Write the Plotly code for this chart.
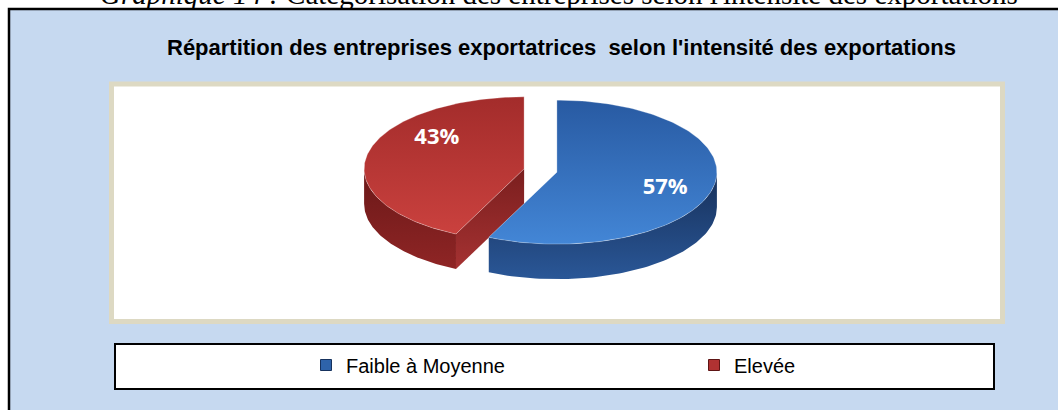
import numpy as np
import plotly.graph_objects as go

# ---------------- data ----------------
categories = ["Faible à Moyenne", "Elevée"]
values = [57, 43]
caption_label = "Graphique 14 :"
caption_text = "Catégorisation des entreprises selon l'intensité des exportations"
title_text = "Répartition des entreprises exportatrices\u00a0 selon l'intensité des exportations"

# ---------------- style / layout ----------------
W, H = 1058, 410
CX, CY = 540.5, 170.5          # pie centre (px)
RX, RY = 160.0, 72.0           # tilted ellipse radii
DEPTH = 35.0                    # pie thickness
EXPLODE = 0.105
LABEL_R = 0.70
label_nudge = [(-1, 5), (22, -19)]
top_colors = [("#4386D6", "#285AA2"), ("#CA413E", "#A32C2B")]
side_colors = [("#2A5797", "#17305A"), ("#8F2525", "#6A1818")]
face_colors = [("#2E62A8", "#1D3D6E"), ("#A53232", "#7A1E1E")]
legend_colors = ["#2E63AA", "#B03232"]
legend_edge = ["#16325E", "#5E1414"]
legend_x = [306, 694]           # px position of each legend entry

fig = go.Figure()

total = float(sum(values))
bounds = np.concatenate([[0.0], np.cumsum(values) / total * 360.0])


def pt(theta_deg, cx, cy, dy=0.0):
    t = np.radians(theta_deg)
    return cx + RX * np.sin(t), cy - RY * np.cos(t) + dy


def add_face(xs, ys, c0, c1):
    fig.add_trace(go.Scatter(x=xs, y=ys, fill="toself", mode="lines",
                             line=dict(width=0), hoverinfo="skip", showlegend=False,
                             fillgradient=dict(type="vertical", colorscale=[[0, c0], [1, c1]])))


slices = []
for i, v in enumerate(values):
    t0, t1 = bounds[i], bounds[i + 1]
    mid = 0.5 * (t0 + t1)
    m = np.radians(mid)
    cx = CX + EXPLODE * RX * np.sin(m)
    cy = CY - EXPLODE * RY * np.cos(m)
    slices.append((t0, t1, mid, cx, cy))

# back slice first, front slice last
order = [1, 0]
for i in order:
    t0, t1, mid, cx, cy = slices[i]
    for edge, normal in ((t0, t0 - 90), (t1, t1 + 90)):
        if -np.cos(np.radians(normal)) > 1e-6:
            ex, ey = pt(edge, cx, cy)
            add_face([cx, ex, ex, cx, cx], [cy, ey, ey + DEPTH, cy + DEPTH, cy],
                     face_colors[i][0], face_colors[i][1])
    a0, a1 = max(t0, 90.0), min(t1, 270.0)
    if a0 < a1:
        th = np.linspace(a0, a1, 80)
        xs, ys = pt(th, cx, cy)
        add_face(np.concatenate([xs, xs[::-1], xs[:1]]),
                 np.concatenate([ys, ys[::-1] + DEPTH, ys[:1]]),
                 side_colors[i][0], side_colors[i][1])
    th = np.linspace(t0, t1, 160)
    xs, ys = pt(th, cx, cy)
    fig.add_trace(go.Scatter(x=np.concatenate([[cx], xs, [cx]]), y=np.concatenate([[cy], ys, [cy]]),
                             fill="toself", mode="lines",
                             line=dict(width=0.8, color="rgba(255,255,255,0.35)"),
                             hoverinfo="skip", showlegend=False,
                             fillgradient=dict(type="vertical",
                                               colorscale=[[0, top_colors[i][0]], [1, top_colors[i][1]]])))

# value labels
lx, ly, lt = [], [], []
for i, v in enumerate(values):
    t0, t1, mid, cx, cy = slices[i]
    m = np.radians(mid)
    lx.append(cx + LABEL_R * RX * np.sin(m) + label_nudge[i][0])
    ly.append(cy - LABEL_R * RY * np.cos(m) + label_nudge[i][1])
    lt.append(f"{v}%")
fig.add_trace(go.Scatter(x=lx, y=ly, text=lt, mode="text", hoverinfo="skip", showlegend=False,
                         textfont=dict(family="Open Sans", size=22, color="white", weight="bold")))

# legend entries (one legend per entry to place them like the reference)
legend_names = ["legend", "legend2"]
for i, c in enumerate(categories):
    fig.add_trace(go.Scatter(x=[None], y=[None], mode="markers", name=c, legend=legend_names[i],
                             marker=dict(symbol="square", size=11, color=legend_colors[i],
                                         line=dict(width=1, color=legend_edge[i]))))

shapes = [
    dict(type="rect", xref="x", yref="y", x0=9, y0=9, x1=1075, y1=425,
         fillcolor="#C6D9F0", line=dict(color="black", width=2.5), layer="below"),
    dict(type="rect", xref="x", yref="y", x0=111.5, y0=84, x1=1002.5, y1=321.5,
         fillcolor="white", line=dict(color="#DDD9C3", width=5), layer="below"),
    dict(type="rect", xref="x", yref="y", x0=115, y0=344, x1=994, y1=389,
         fillcolor="white", line=dict(color="black", width=2), layer="below"),
]

annotations = [
    dict(x=98, y=12, xref="x", yref="y", xanchor="left", yanchor="bottom", showarrow=False,
         text=f"<i>{caption_label}</i> {caption_text}",
         font=dict(family="Liberation Serif", size=29, color="black")),
    dict(x=561, y=47, xref="x", yref="y", xanchor="center", yanchor="middle", showarrow=False,
         text=f"<b>{title_text}</b>",
         font=dict(family="Liberation Sans", size=22, color="black")),
]

legend_common = dict(orientation="h", xanchor="left", y=1 - 365 / H, yanchor="middle",
                     bgcolor="rgba(0,0,0,0)", borderwidth=0,
                     font=dict(family="Liberation Sans", size=20, color="black"),
                     itemclick=False, itemdoubleclick=False)

fig.update_layout(
    width=W, height=H,
    margin=dict(l=0, r=0, t=0, b=0, autoexpand=False),
    paper_bgcolor="white", plot_bgcolor="white",
    xaxis=dict(range=[0, W], visible=False, fixedrange=True),
    yaxis=dict(range=[H, 0], visible=False, fixedrange=True),
    shapes=shapes, annotations=annotations,
    showlegend=True,
    legend=dict(x=legend_x[0] / W, **legend_common),
    legend2=dict(x=legend_x[1] / W, **legend_common),
    hovermode=False,
)

fig.write_html("out.html", config={"displayModeBar": False},
               post_script="document.body.style.margin='0';document.body.style.overflow='hidden';")
